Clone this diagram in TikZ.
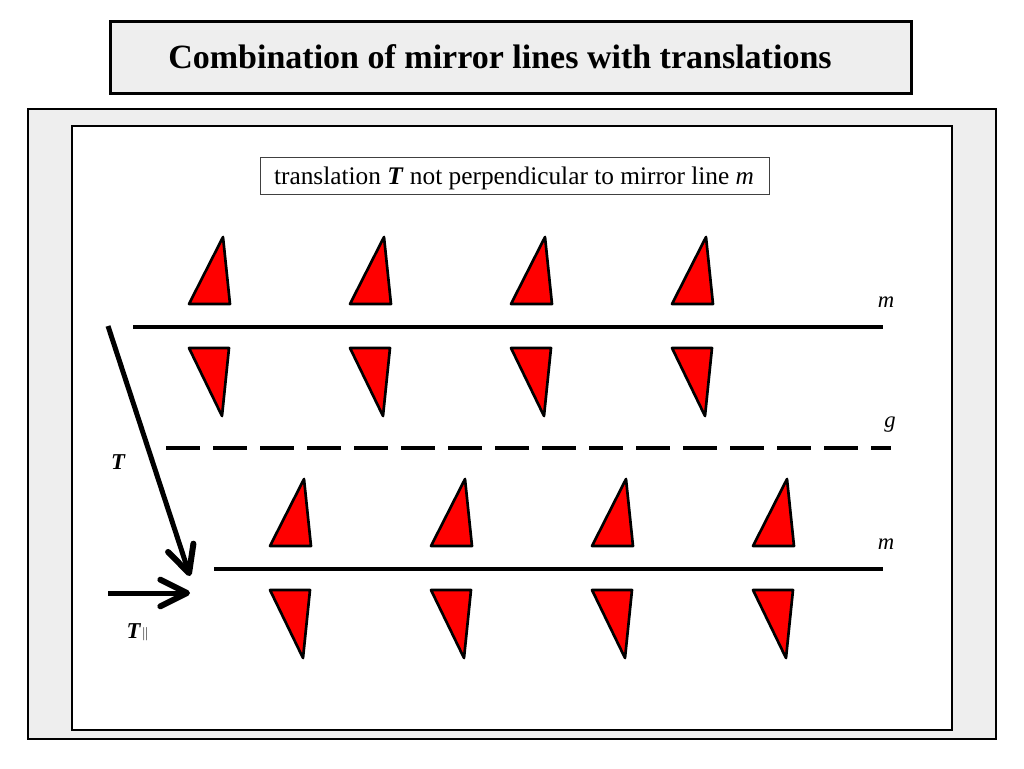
\documentclass[tikz,border=0pt]{standalone}
\usepackage{fontspec}
\setmainfont{Liberation Serif}
\usetikzlibrary{arrows.meta}
\definecolor{panelgray}{HTML}{EEEEEE}
\definecolor{motifred}{HTML}{FF0000}

\begin{document}
\begin{tikzpicture}[x=0.75pt,y=-0.75pt]
% Styles
\tikzset{
    frame/.style={draw, line width=1.5pt, inner sep=0pt},
    motif/.style={draw, fill=motifred, line width=2pt, line join=round},
    mirror/.style={line width=3pt},
    glide/.style={line width=3pt, dash pattern=on 25.5pt off 9.75pt},
    transarrow/.style={line width=3.75pt, -{Straight Barb[length=20pt,width=20pt,line width=4.5pt,round]}},
    lbl/.style={font=\fontsize{17}{20}\selectfont\itshape}
}
\useasboundingbox (0,0) rectangle (1024,768);

% Frames
\node[frame, line width=2.25pt, fill=panelgray, minimum width=601pt, minimum height=54pt] (title) at (511,57) {};
\node (titletext) at (500,57) {\fontsize{25.5}{30}\selectfont\bfseries Combination of mirror lines with translations};
\node[frame, fill=panelgray, minimum width=726pt, minimum height=472pt] (panel) at (511.5,424) {};
\node[frame, fill=white, minimum width=660pt, minimum height=453pt] (board) at (511.5,428) {};
\node[draw=black!75, line width=0.75pt, minimum width=382pt, minimum height=28pt, inner sep=0pt] (caption) at (515,176) {};
\node (captiontext) at (514,178)
    {\fontsize{19}{22}\selectfont translation \textbf{\textit{T}} not perpendicular to mirror line \textit{m}};

% Motifs
\foreach \i in {0,...,3} {
    \draw[motif] ({189+161*\i},304) -- ++(41,0) -- ++(-7,-67) -- cycle;
    \draw[motif] ({189+161*\i},348) -- ++(40,0) -- ++(-7,68) -- cycle;
    \draw[motif] ({270+161*\i},546) -- ++(41,0) -- ++(-7,-67) -- cycle;
    \draw[motif] ({270+161*\i},590) -- ++(40,0) -- ++(-7,68) -- cycle;
}

% Lines
\coordinate (m1w) at (133,327);
\coordinate (m1e) at (883,327);
\coordinate (gw) at (166,448);
\coordinate (ge) at (891,448);
\coordinate (m2w) at (214,569);
\coordinate (m2e) at (883,569);
\draw[mirror] (m1w) -- (m1e);
\draw[glide] (gw) -- (ge);
\draw[mirror] (m2w) -- (m2e);
\node[lbl] (m1) at (886,302) {m};
\node[lbl] (g) at (890,425) {g};
\node[lbl] (m2) at (886,544) {m};

% Translations
\coordinate (Tfrom) at (108,326);
\coordinate (Tto) at (190,576);
\coordinate (Pfrom) at (108,593);
\coordinate (Pto) at (190,593);
\draw[transarrow] (Tfrom) -- (Tto);
\draw[transarrow] (Pfrom) -- (Pto);
\node[lbl, font=\fontsize{17}{20}\selectfont\bfseries\itshape] (T) at (118,462) {T};
\node[lbl, font=\fontsize{17}{20}\selectfont\bfseries\itshape, anchor=west] (Tpar) at (122,632)
    {T\kern1pt\raisebox{0.5pt}{\fontsize{10}{10}\selectfont\normalfont$\|$}};
\end{tikzpicture}
\end{document}
